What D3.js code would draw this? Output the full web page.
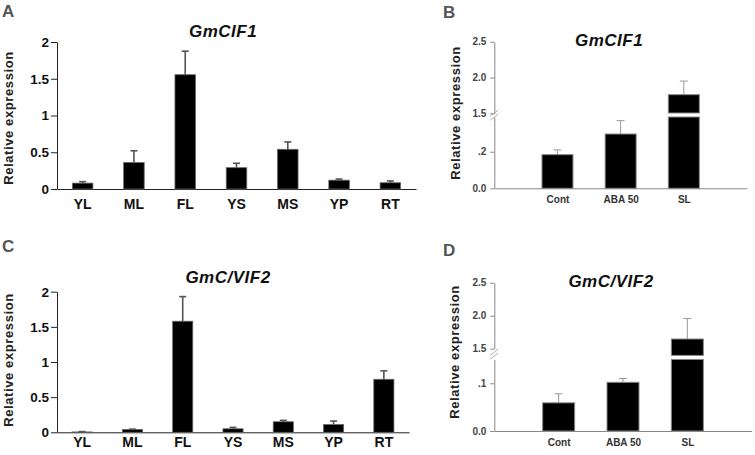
<!DOCTYPE html>
<meta charset="utf-8">
<style>
    body { margin: 0; background: #fff; }
    text { font-family: "Liberation Sans", Arial, sans-serif; }
    .panel-label { font-size: 17px; font-weight: bold; fill: #555; }
    .title { font-size: 17px; font-weight: bold; font-style: italic; fill: #111; text-anchor: middle; letter-spacing: 0.5px; }
    .ytitle { font-size: 13px; font-weight: bold; fill: #222; text-anchor: middle; letter-spacing: 0.6px; }
</style>
<svg width="755" height="455"></svg>
<script src="https://d3js.org/d3.v7.min.js"></script>
<script>
    // tissue panels (A, C)
    var tissues = ["YL", "ML", "FL", "YS", "MS", "YP", "RT"];
    var cif1Tissue = [0.08, 0.36, 1.555, 0.29, 0.54, 0.12, 0.085];
    var cif1TissueErr = [0.02, 0.16, 0.32, 0.06, 0.10, 0.015, 0.025];
    var vif2Tissue = [0.005, 0.04, 1.58, 0.05, 0.15, 0.11, 0.754];
    var vif2TissueErr = [0.005, 0.005, 0.35, 0.02, 0.02, 0.05, 0.12];
    var tissueTicks = [0, 0.5, 1, 1.5, 2];

    // treatment panels (B, D), broken y axis
    var treatments = ["Cont", "ABA 50", "SL"];
    var cif1Treat = [0.184, 0.297, 1.76];
    var cif1TreatErr = [0.026, 0.073, 0.19];
    var vif2Treat = [0.059, 0.102, 1.647];
    var vif2TreatErr = [0.019, 0.008, 0.31];
    var highTicks = [1.5, 2.0, 2.5];
    var cif1LowTicks = [0, 0.2];
    var cif1LowLabels = ["0.0", ".2"];
    var vif2LowTicks = [0, 0.1];
    var vif2LowLabels = ["0.0", ".1"];

    var svg = d3.select("svg");

    function tissuePanel(o) {
        var g = svg.append("g");
        var x = d3.scaleBand().domain(tissues).range([o.left, o.right]);
        var y = d3.scaleLinear().domain([0, 2]).range([o.bottom, o.top]);
        var bw = x.bandwidth() * 0.4;

        var ya = g.append("g")
                .attr("transform", "translate(" + o.left + ",0)")
                .call(d3.axisLeft(y).tickValues(tissueTicks).tickFormat(d3.format(""))
                        .tickSize(6).tickSizeOuter(0).tickPadding(2));
        ya.selectAll("text").style("font-size", "13.5px").style("font-weight", "bold").attr("fill", "#111");
        ya.selectAll("line,path").attr("stroke", "#222");

        var xa = g.append("g")
                .attr("transform", "translate(0," + o.bottom + ")")
                .call(d3.axisBottom(x).tickSize(0).tickSizeOuter(0).tickPadding(o.xpad));
        xa.selectAll("text").style("font-size", "14px").style("font-weight", "bold").attr("fill", "#111");
        xa.select("path").attr("stroke", "#222");

        var bars = g.selectAll(".bar").data(tissues).enter().append("g");
        bars.append("line")
                .attr("x1", function (d) { return x(d) + x.bandwidth() / 2; })
                .attr("x2", function (d) { return x(d) + x.bandwidth() / 2; })
                .attr("y1", function (d, i) { return y(o.vals[i]); })
                .attr("y2", function (d, i) { return y(o.vals[i] + o.errs[i]); })
                .attr("stroke", "#555").attr("stroke-width", 1.6);
        bars.append("line")
                .attr("x1", function (d) { return x(d) + x.bandwidth() / 2 - 3.5; })
                .attr("x2", function (d) { return x(d) + x.bandwidth() / 2 + 3.5; })
                .attr("y1", function (d, i) { return y(o.vals[i] + o.errs[i]); })
                .attr("y2", function (d, i) { return y(o.vals[i] + o.errs[i]); })
                .attr("stroke", "#555").attr("stroke-width", 1.6);
        bars.append("rect")
                .attr("x", function (d) { return x(d) + (x.bandwidth() - bw) / 2; })
                .attr("width", bw)
                .attr("y", function (d, i) { return y(o.vals[i]); })
                .attr("height", function (d, i) { return y(0) - y(o.vals[i]); })
                .attr("fill", "#000").attr("stroke", "#666").attr("stroke-width", 0.8);

        g.append("text").attr("class", "title").attr("x", o.titleX).attr("y", o.titleY).text(o.title);
        g.append("text").attr("class", "ytitle")
                .attr("transform", "translate(" + o.ytX + "," + o.ytY + ") rotate(-90)")
                .attr("dy", "0.35em").text("Relative expression");
        g.append("text").attr("class", "panel-label").attr("x", o.labX).attr("y", o.labY).text(o.label);
    }

    function treatPanel(o) {
        var g = svg.append("g");
        var x = d3.scalePoint().domain(treatments).range([o.left, o.right]).padding(1);
        var yLow = d3.scaleLinear().domain([0, o.lowMax]).range([o.bottom, o.lowTop]);
        var yHigh = d3.scaleLinear().domain([1.5, 2.5]).range([o.highBottom, o.top]);
        var bw = o.barW;

        function styleAxis(a) {
            a.selectAll("text").style("font-size", "10px").style("font-weight", "bold").attr("fill", "#444");
            a.selectAll("line,path").attr("stroke", "#888");
        }

        styleAxis(g.append("g").attr("transform", "translate(" + o.left + ",0)")
                .call(d3.axisLeft(yLow).tickValues(o.lowTicks)
                        .tickFormat(function (d, i) { return o.lowLabels[i]; })
                        .tickSize(4).tickSizeOuter(0).tickPadding(4)));
        styleAxis(g.append("g").attr("transform", "translate(" + o.left + ",0)")
                .call(d3.axisLeft(yHigh).tickValues(highTicks).tickFormat(d3.format(".1f"))
                        .tickSize(4).tickSizeOuter(0).tickPadding(4)));
        styleAxis(g.append("g").attr("transform", "translate(0," + o.bottom + ")")
                .call(d3.axisBottom(d3.scaleLinear().range([o.left, o.right])).tickValues([])
                        .tickSize(0).tickSizeOuter(0)));
        var xl = g.append("g").attr("transform", "translate(0," + o.bottom + ")")
                .call(d3.axisBottom(x).tickSize(0).tickSizeOuter(0).tickPadding(o.xpad));
        xl.select("path").remove();
        xl.selectAll("text").style("font-size", "10px").style("font-weight", "bold").attr("fill", "#333");

        // break marks
        var by = (o.highBottom + o.lowTop) / 2;
        [-2, 2].forEach(function (off) {
            g.append("line")
                    .attr("x1", o.left - 4).attr("x2", o.left + 4)
                    .attr("y1", by + off + 3).attr("y2", by + off - 3)
                    .attr("stroke", "#999").attr("stroke-width", 0.8);
        });

        treatments.forEach(function (t, i) {
            var v = o.vals[i], e = o.errs[i], cx = x(t);
            var yv, ye;
            if (v <= o.lowMax) {
                yv = yLow(v); ye = yLow(v + e);
            } else {
                yv = yHigh(v); ye = yHigh(v + e);
            }
            g.append("line").attr("x1", cx).attr("x2", cx).attr("y1", yv).attr("y2", ye)
                    .attr("stroke", "#999").attr("stroke-width", 1);
            g.append("line").attr("x1", cx - 4).attr("x2", cx + 4).attr("y1", ye).attr("y2", ye)
                    .attr("stroke", "#999").attr("stroke-width", 1);
            if (v <= o.lowMax) {
                g.append("rect").attr("x", cx - bw / 2).attr("width", bw)
                        .attr("y", yv).attr("height", yLow(0) - yv)
                        .attr("fill", "#000").attr("stroke", "#888").attr("stroke-width", 1);
            } else {
                g.append("rect").attr("x", cx - bw / 2).attr("width", bw)
                        .attr("y", o.lowTop).attr("height", yLow(0) - o.lowTop)
                        .attr("fill", "#000").attr("stroke", "#888").attr("stroke-width", 1);
                g.append("rect").attr("x", cx - bw / 2).attr("width", bw)
                        .attr("y", yv).attr("height", o.lowTop - 4 - yv)
                        .attr("fill", "#000").attr("stroke", "#888").attr("stroke-width", 1);
            }
        });

        g.append("text").attr("class", "title").attr("x", o.titleX).attr("y", o.titleY).text(o.title);
        g.append("text").attr("class", "ytitle")
                .attr("transform", "translate(" + o.ytX + "," + o.ytY + ") rotate(-90)")
                .attr("dy", "0.35em").text("Relative expression");
        g.append("text").attr("class", "panel-label").attr("x", o.labX).attr("y", o.labY).text(o.label);
    }

    tissuePanel({
        vals: cif1Tissue, errs: cif1TissueErr, title: "GmCIF1", label: "A",
        left: 57, right: 416, top: 42, bottom: 189, xpad: 10,
        titleX: 223, titleY: 37, ytX: 8.5, ytY: 118, labX: 2, labY: 17
    });
    tissuePanel({
        vals: vif2Tissue, errs: vif2TissueErr, title: "GmC/VIF2", label: "C",
        left: 57, right: 409, top: 291.7, bottom: 432.3, xpad: 4.5,
        titleX: 228, titleY: 283, ytX: 8.5, ytY: 360, labX: 2, labY: 252
    });
    treatPanel({
        vals: cif1Treat, errs: cif1TreatErr, title: "GmCIF1", label: "B",
        lowTicks: cif1LowTicks, lowLabels: cif1LowLabels, lowMax: 0.39,
        left: 494.3, right: 747, top: 41.7, highBottom: 113.3, lowTop: 117, bottom: 188.3,
        barW: 31, xpad: 8,
        titleX: 609, titleY: 46, ytX: 455, ytY: 113, labX: 443, labY: 18
    });
    treatPanel({
        vals: vif2Treat, errs: vif2TreatErr, title: "GmC/VIF2", label: "D",
        lowTicks: vif2LowTicks, lowLabels: vif2LowLabels, lowMax: 0.15,
        left: 494.3, right: 751.7, top: 282.7, highBottom: 348.7, lowTop: 359.4, bottom: 431,
        barW: 32, xpad: 8,
        titleX: 611, titleY: 286.5, ytX: 454.5, ytY: 352, labX: 443, labY: 256
    });
</script>
